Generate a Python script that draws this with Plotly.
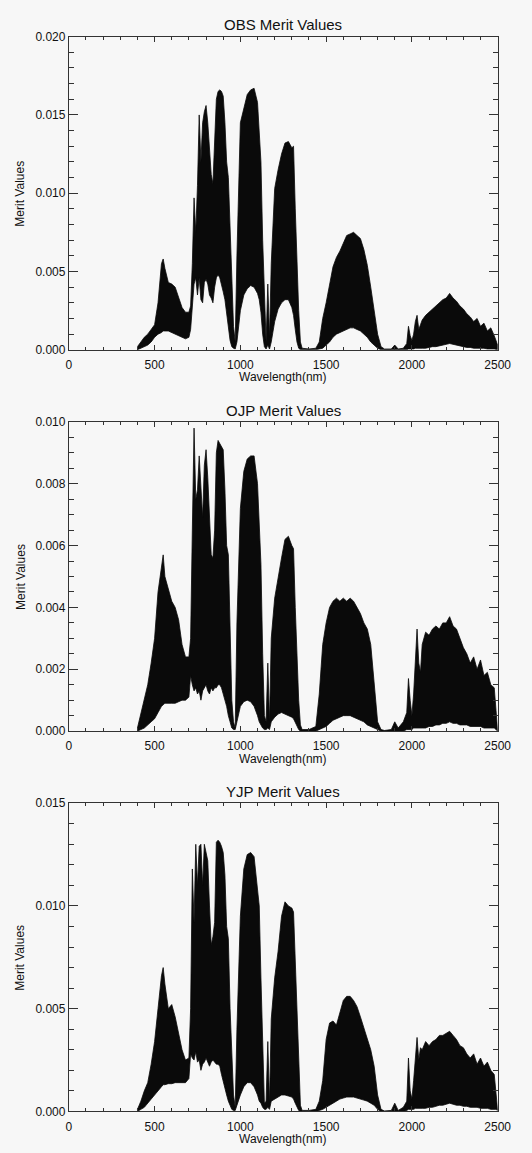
import plotly.graph_objects as go

# Wavelength grid (nm) shared by the three panels
wavelength = [
    400, 420, 440, 460, 480, 500, 520, 540, 550, 560, 580, 600, 620, 640, 660, 680, 700,
    710, 720, 730, 740, 750, 760, 770, 780, 790, 800, 810, 820, 830, 840, 850, 860, 870, 880,
    890, 900, 910, 920, 930, 940, 950, 960, 970, 980,
    1000, 1020, 1040, 1060, 1080, 1100, 1110, 1120, 1130, 1140, 1150, 1160, 1170, 1180,
    1200, 1220, 1240, 1260, 1280, 1300, 1310, 1320, 1330, 1340, 1350, 1360,
    1400, 1440, 1460, 1480, 1500, 1520, 1540, 1560, 1580, 1600, 1620, 1640, 1660, 1680, 1700,
    1720, 1740, 1760, 1780, 1800, 1820, 1840,
    1880, 1900, 1920, 1950, 1970, 1980, 1990, 2000, 2010, 2020, 2030, 2040, 2050, 2060,
    2080, 2100, 2120, 2140, 2160, 2180, 2200, 2220, 2240, 2260, 2280, 2300, 2320, 2340, 2360,
    2380, 2400, 2420, 2440, 2460, 2480, 2490, 2500,
]

# Envelopes of the merit values (units of 1e-3)
obs_upper = [
    0.2, 0.5, 0.8, 1.0, 1.3, 1.6, 3.0, 5.5, 5.8, 5.2, 4.3, 4.2, 4.0, 3.3, 2.7, 2.4, 2.4,
    2.8, 5.5, 9.7, 7.5, 10.5, 15.0, 12.0, 14.5, 15.2, 15.6, 14.5, 12.5, 11.2, 10.6, 13.5, 16.0, 16.5, 16.6,
    16.5, 16.2, 14.5, 12.0, 11.0, 7.5, 4.0, 1.5, 0.5, 6.0,
    14.5, 15.5, 16.3, 16.6, 16.7, 15.8, 14.0, 12.0, 7.0, 3.5, 0.5, 4.2, 0.8, 5.5,
    10.3, 11.5, 12.5, 13.2, 13.3, 12.9, 13.0, 9.0, 5.5, 2.5, 0.5, 0.1,
    0.05, 0.1, 0.5, 2.0, 3.0, 4.2, 5.3, 5.9, 6.3, 6.8, 7.3, 7.4, 7.5, 7.3, 7.1,
    6.4, 5.4, 4.0, 2.5, 1.0, 0.2, 0.05,
    0.05, 0.3, 0.05, 0.1, 0.4, 1.5, 0.9, 0.6, 1.0, 1.8, 2.2, 1.3, 1.6, 1.9,
    2.2, 2.4, 2.6, 2.8, 3.0, 3.2, 3.3, 3.6, 3.3, 3.1, 2.8, 2.6, 2.3, 2.1, 1.8,
    2.0, 1.5, 1.7, 1.2, 1.4, 0.9, 0.6, 0.3,
]
obs_lower = [
    0.0, 0.1, 0.2, 0.3, 0.5, 0.8, 1.0, 1.1, 1.2, 1.2, 1.2, 1.1, 1.0, 0.9, 0.8, 0.7, 0.8,
    1.3, 2.5, 4.2, 4.6, 3.5, 4.6, 3.2, 3.0, 4.3, 4.5, 4.2, 3.5, 3.3, 3.0, 4.0, 4.6, 4.8, 4.6,
    4.2, 3.7, 3.2, 2.4, 1.5, 0.6, 0.2, 0.1, 0.05, 0.5,
    2.5, 3.5, 3.9, 4.1, 4.0, 3.6, 3.2, 2.4, 1.0, 0.2, 0.05, 0.3, 0.05, 0.5,
    1.8, 2.6, 3.0, 3.2, 3.2, 2.7, 2.2, 1.3, 0.5, 0.1, 0.0, 0.0,
    0.0, 0.0, 0.05, 0.1, 0.3, 0.5, 0.8, 1.0, 1.1, 1.2, 1.3, 1.4, 1.4, 1.3, 1.2,
    1.0, 0.8, 0.5, 0.3, 0.1, 0.0, 0.0,
    0.0, 0.0, 0.0, 0.0, 0.0, 0.05, 0.05, 0.05, 0.05, 0.1, 0.1, 0.1, 0.1, 0.1,
    0.1, 0.15, 0.2, 0.2, 0.25, 0.3, 0.35, 0.4, 0.35, 0.3, 0.25, 0.2, 0.15, 0.15, 0.1,
    0.1, 0.1, 0.1, 0.05, 0.05, 0.05, 0.05, 0.0,
]

ojp_upper = [
    0.1, 0.6, 1.1, 1.5, 2.2, 3.0, 4.5, 5.4, 5.7, 5.0, 4.6, 4.2, 4.0, 3.6, 2.8, 2.4, 2.4,
    3.0, 6.5, 9.8, 7.5, 7.8, 8.9, 8.0, 6.9, 8.6, 9.1, 8.2, 7.0, 5.7, 5.6, 6.5, 9.0, 9.4, 9.3,
    9.2, 9.1, 7.8, 6.0, 5.7, 3.0, 1.0, 0.3, 0.1, 3.5,
    7.2, 8.4, 8.8, 8.9, 8.9, 8.0, 6.8, 5.4, 2.5, 0.5, 0.3, 2.2, 0.3, 3.0,
    4.3, 5.0, 5.6, 6.2, 6.3, 6.0, 5.9, 4.0, 2.5, 1.0, 0.2, 0.05,
    0.05, 0.15, 1.2, 2.8, 3.5, 4.0, 4.2, 4.3, 4.2, 4.3, 4.2, 4.3, 4.2, 4.0, 3.8,
    3.5, 3.3, 2.8, 1.5, 0.3, 0.05, 0.02,
    0.05, 0.3, 0.1, 0.3, 0.6, 1.7, 1.0, 0.5, 1.2, 2.5, 3.3, 2.2, 1.9, 2.8,
    3.2, 3.1, 3.3, 3.4, 3.3, 3.5, 3.5, 3.7, 3.4, 3.3, 3.0, 2.7, 2.5, 2.2, 2.4,
    2.0, 2.3, 1.8, 1.9, 1.5, 1.4, 0.8, 0.2,
]
ojp_lower = [
    0.0, 0.05, 0.1, 0.2, 0.3, 0.4, 0.6, 0.8, 0.85, 0.9, 0.9, 0.9, 0.9, 0.95, 1.0, 1.0, 1.1,
    1.8, 1.5, 1.3, 1.4, 1.2, 1.3, 1.0, 1.3, 1.4, 1.5, 1.3, 1.2, 1.4, 1.3, 1.4, 1.4, 1.5, 1.5,
    1.4, 1.2, 1.0, 0.8, 0.5, 0.3, 0.1, 0.05, 0.05, 0.3,
    0.8, 0.95, 1.0, 0.95, 0.8, 0.5, 0.3, 0.2, 0.1, 0.05, 0.05, 0.1, 0.05, 0.3,
    0.45, 0.55, 0.6, 0.55, 0.5, 0.45, 0.4, 0.3, 0.15, 0.05, 0.0, 0.0,
    0.0, 0.0, 0.05, 0.1, 0.15, 0.25, 0.35, 0.4, 0.45, 0.5, 0.5, 0.5, 0.45, 0.4, 0.35,
    0.3, 0.2, 0.15, 0.1, 0.05, 0.0, 0.0,
    0.0, 0.0, 0.0, 0.0, 0.05, 0.05, 0.05, 0.05, 0.1, 0.1, 0.1, 0.1, 0.1, 0.1,
    0.1, 0.15, 0.15, 0.2, 0.2, 0.25, 0.25, 0.3, 0.25, 0.25, 0.2, 0.2, 0.2, 0.15, 0.15,
    0.15, 0.15, 0.1, 0.1, 0.1, 0.1, 0.05, 0.0,
]

yjp_upper = [
    0.1, 0.5, 1.0, 1.4, 2.3, 3.4, 5.0, 6.6, 7.0, 6.2, 5.0, 5.2, 4.6, 3.8, 3.0, 2.5, 2.6,
    5.0, 11.8, 9.2, 13.0, 11.0, 12.9, 13.0, 11.0, 13.0, 12.6, 12.2, 10.0, 8.1, 8.5, 9.2, 13.1, 13.2, 13.1,
    12.9, 12.6, 11.5, 9.0, 8.4, 5.0, 2.7, 0.8, 0.2, 4.0,
    9.5, 11.8, 12.5, 12.6, 12.4, 11.0, 10.0, 6.5, 2.7, 0.4, 0.5, 3.4, 0.4, 4.5,
    6.5, 7.8, 9.5, 10.2, 10.0, 9.9, 9.7, 7.3, 5.0, 2.5, 0.3, 0.05,
    0.05, 0.1, 0.5, 1.5, 3.5, 4.3, 4.4, 4.2, 4.8, 5.4, 5.6, 5.6, 5.4, 5.1, 4.6,
    4.1, 3.6, 3.0, 2.2, 0.8, 0.1, 0.02,
    0.05, 0.4, 0.05, 0.2, 0.5, 2.6, 1.0, 0.6, 1.5, 2.8, 3.6, 2.5, 3.1, 3.0,
    3.4, 3.2, 3.4, 3.5, 3.7, 3.7, 3.8, 3.9, 3.7, 3.5, 3.2, 3.1, 2.8, 2.6, 2.8,
    2.3, 2.6, 2.2, 2.4, 2.0, 1.8, 1.0, 0.3,
]
yjp_lower = [
    0.0, 0.1, 0.2, 0.4, 0.6, 0.8, 1.0, 1.2, 1.3, 1.3, 1.35, 1.35, 1.4, 1.4, 1.4, 1.4, 1.6,
    2.8, 2.6, 2.5, 2.9, 2.4, 2.5, 2.0, 2.3, 2.4, 2.6, 2.4, 2.2, 2.4, 2.5, 2.4, 2.3, 2.3, 2.2,
    1.8, 1.4, 1.1, 0.8, 0.5, 0.3, 0.1, 0.05, 0.05, 0.3,
    0.8, 1.2, 1.4, 1.4, 1.2, 0.8, 0.5, 0.4, 0.2, 0.1, 0.1, 0.2, 0.1, 0.5,
    0.6, 0.7, 0.8, 0.8, 0.75, 0.7, 0.6, 0.4, 0.2, 0.05, 0.0, 0.0,
    0.0, 0.0, 0.05, 0.1, 0.2, 0.3, 0.4, 0.5, 0.6, 0.65, 0.7, 0.7, 0.7, 0.65, 0.6,
    0.55, 0.5, 0.4, 0.3, 0.1, 0.0, 0.0,
    0.0, 0.0, 0.0, 0.0, 0.05, 0.1, 0.1, 0.1, 0.1, 0.15, 0.15, 0.15, 0.15, 0.15,
    0.15, 0.2, 0.2, 0.25, 0.3, 0.3, 0.35, 0.4, 0.35, 0.3, 0.3, 0.25, 0.25, 0.2, 0.2,
    0.2, 0.15, 0.15, 0.15, 0.1, 0.1, 0.1, 0.05,
]

titles = ["OBS Merit Values", "OJP Merit Values", "YJP Merit Values"]
x_title = "Wavelength(nm)"
y_title = "Merit Values"
x_ticks = [0, 500, 1000, 1500, 2000, 2500]
y_ranges = [0.020, 0.010, 0.015]
y_dticks = [0.005, 0.002, 0.005]
y_minor = [0.001, 0.0005, 0.001]

panels = [(obs_upper, obs_lower), (ojp_upper, ojp_lower), (yjp_upper, yjp_lower)]
for up, lo in panels:
    assert len(up) == len(wavelength) and len(lo) == len(wavelength)

W, H = 532, 1153
# pixel boxes of the plot areas (top, bottom)
boxes = [(30, 347), (420, 733), (806, 1118)]
x_left, x_right = 68, 511

fig = go.Figure()
ink = "#111111"
font = "Liberation Sans, Arial, sans-serif"

for i, (up, lo) in enumerate(panels):
    xs = wavelength + wavelength[::-1]
    ys = [v * 1e-3 for v in up] + [v * 1e-3 for v in lo[::-1]]
    suffix = "" if i == 0 else str(i + 1)
    fig.add_trace(go.Scatter(
        x=xs, y=ys, mode="lines", fill="toself",
        fillcolor="#0a0a0a", line=dict(color="#0a0a0a", width=0.8),
        xaxis="x" + suffix, yaxis="y" + suffix, showlegend=False,
        hoverinfo="skip",
    ))

layout = dict(
    width=W, height=H,
    margin=dict(l=0, r=0, t=0, b=0),
    paper_bgcolor="#f7f7f7", plot_bgcolor="#f7f7f7",
    font=dict(family=font, size=12, color=ink),
    showlegend=False,
)
annotations = []
for i in range(3):
    top, bot = boxes[i]
    suffix = "" if i == 0 else str(i + 1)
    dom_y = [1 - bot / H, 1 - top / H]
    layout["xaxis" + suffix] = dict(
        domain=[x_left / W, x_right / W], range=[0, 2500],
        tickvals=x_ticks, ticktext=[str(v) for v in x_ticks],
        ticks="inside", ticklen=5, tickcolor="#333", tickwidth=1,
        minor=dict(dtick=100, tick0=0, ticks="inside", ticklen=3, tickcolor="#333"),
        showline=True, linecolor="#333", linewidth=1, mirror="ticks",
        showgrid=False, zeroline=False,
        anchor="y" + suffix, tickfont=dict(size=12, color=ink),
        ticklabelstandoff=4,
    )
    layout["yaxis" + suffix] = dict(
        domain=dom_y, range=[0, y_ranges[i]],
        dtick=y_dticks[i], tick0=0, tickformat=".3f",
        ticks="inside", ticklen=9, tickcolor="#333", tickwidth=1,
        minor=dict(dtick=y_minor[i], tick0=0, ticks="inside", ticklen=5, tickcolor="#333"),
        showline=True, linecolor="#333", linewidth=1, mirror="ticks",
        showgrid=False, zeroline=False,
        anchor="x" + suffix, tickfont=dict(size=12, color=ink),
    )
    cx = (x_left + x_right) / 2 / W
    annotations.append(dict(text=titles[i], x=cx, y=1 - (top - 12) / H, xref="paper", yref="paper",
                            xanchor="center", yanchor="middle", showarrow=False,
                            font=dict(size=15, color=ink)))
    annotations.append(dict(text=x_title, x=cx, y=1 - (bot + 28) / H, xref="paper", yref="paper",
                            xanchor="center", yanchor="middle", showarrow=False,
                            font=dict(size=12, color=ink)))
    annotations.append(dict(text=y_title, x=18 / W, y=1 - (top + bot) / 2 / H, xref="paper", yref="paper",
                            xanchor="center", yanchor="middle", showarrow=False, textangle=-90,
                            font=dict(size=12, color=ink)))
layout["annotations"] = annotations
fig.update_layout(**layout)
fig.write_html("out.html")
